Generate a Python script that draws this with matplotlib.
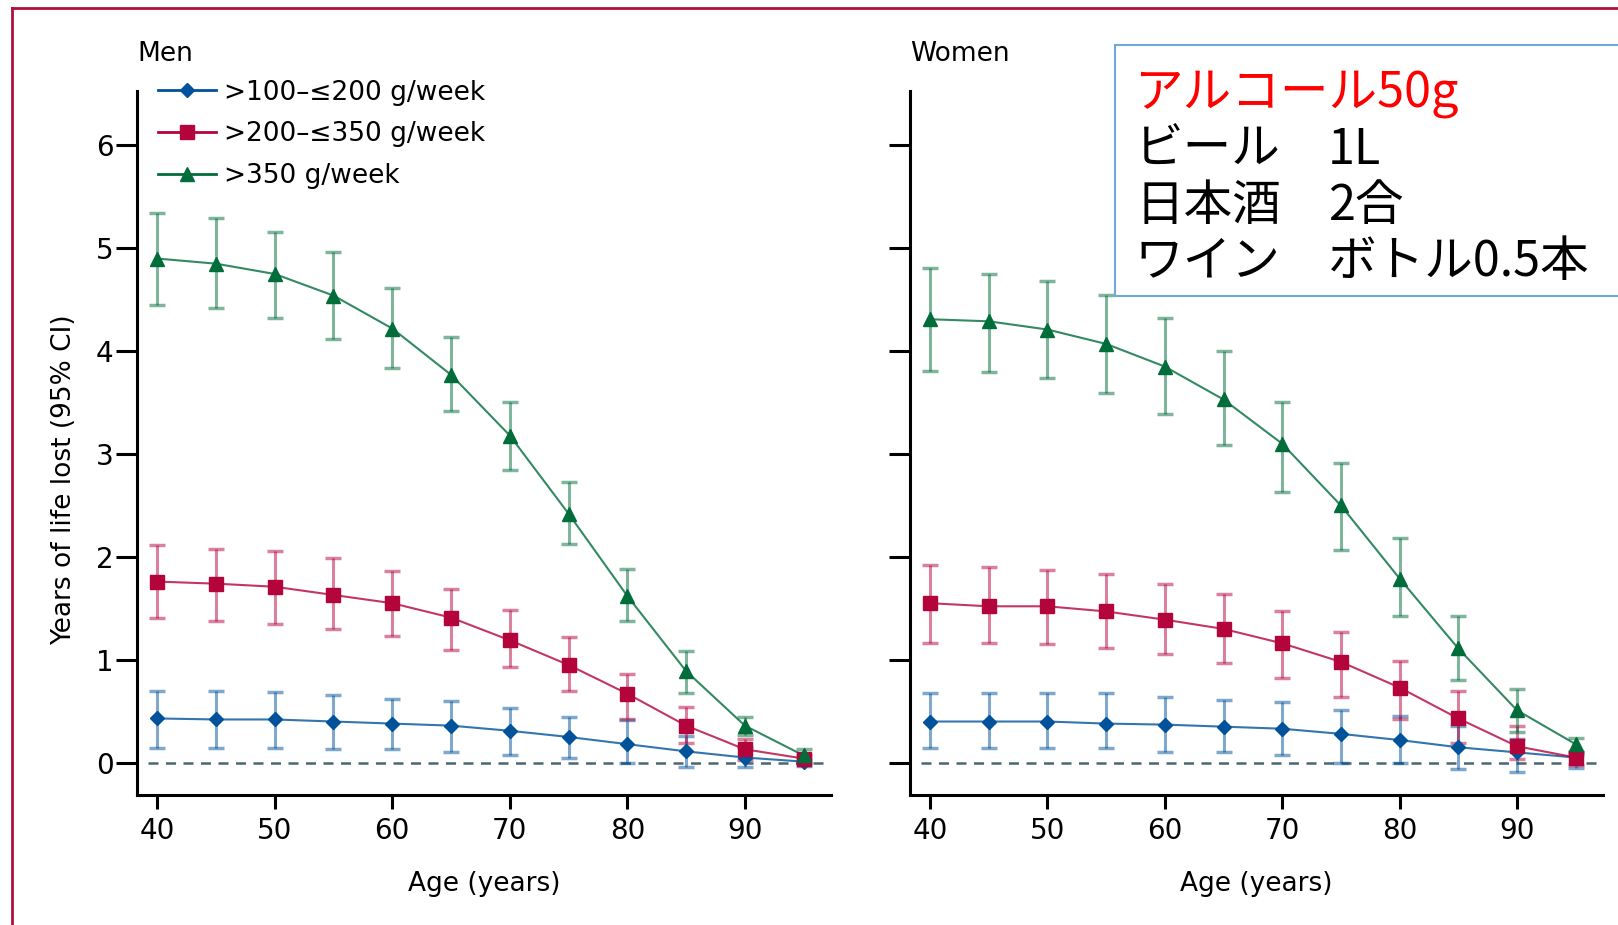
import numpy as np
import matplotlib.pyplot as plt
from matplotlib.lines import Line2D
from matplotlib.patches import Rectangle

# ---------------------------------------------------------------------------
# Datos
# ---------------------------------------------------------------------------
ages = [40, 45, 50, 55, 60, 65, 70, 75, 80, 85, 90, 95]
series_labels = [">100\u2013\u2264200 g/week", ">200\u2013\u2264350 g/week", ">350 g/week"]

# Hombres
men_low = [0.43, 0.42, 0.42, 0.40, 0.38, 0.36, 0.31, 0.25, 0.18, 0.11, 0.05, 0.01]
men_low_lo = [0.14, 0.14, 0.14, 0.13, 0.13, 0.10, 0.07, 0.05, 0.00, -0.04, -0.04, -0.03]
men_low_hi = [0.70, 0.70, 0.69, 0.66, 0.62, 0.60, 0.53, 0.44, 0.41, 0.26, 0.15, 0.04]

men_mid = [1.76, 1.74, 1.71, 1.63, 1.55, 1.41, 1.19, 0.95, 0.67, 0.36, 0.13, 0.04]
men_mid_lo = [1.41, 1.38, 1.35, 1.30, 1.23, 1.10, 0.93, 0.70, 0.42, 0.19, 0.03, 0.00]
men_mid_hi = [2.12, 2.08, 2.06, 1.99, 1.86, 1.69, 1.48, 1.22, 0.86, 0.54, 0.23, 0.07]

men_high = [4.90, 4.85, 4.75, 4.54, 4.22, 3.77, 3.18, 2.42, 1.62, 0.89, 0.36, 0.07]
men_high_lo = [4.45, 4.42, 4.32, 4.12, 3.84, 3.42, 2.84, 2.13, 1.38, 0.68, 0.27, 0.01]
men_high_hi = [5.34, 5.29, 5.16, 4.96, 4.61, 4.14, 3.51, 2.73, 1.88, 1.09, 0.44, 0.13]

# Mujeres
women_low = [0.40, 0.40, 0.40, 0.38, 0.37, 0.35, 0.33, 0.28, 0.22, 0.15, 0.10, 0.05]
women_low_lo = [0.14, 0.14, 0.14, 0.14, 0.10, 0.10, 0.07, 0.00, 0.00, -0.06, -0.09, -0.05]
women_low_hi = [0.68, 0.68, 0.68, 0.68, 0.64, 0.61, 0.59, 0.51, 0.45, 0.36, 0.23, 0.10]

women_mid = [1.55, 1.52, 1.52, 1.47, 1.39, 1.30, 1.16, 0.98, 0.73, 0.43, 0.16, 0.05]
women_mid_lo = [1.16, 1.16, 1.15, 1.11, 1.06, 0.97, 0.82, 0.64, 0.42, 0.19, 0.04, -0.02]
women_mid_hi = [1.92, 1.90, 1.87, 1.83, 1.74, 1.64, 1.47, 1.27, 0.99, 0.70, 0.36, 0.10]

women_high = [4.31, 4.29, 4.21, 4.07, 3.85, 3.53, 3.10, 2.50, 1.79, 1.11, 0.51, 0.18]
women_high_lo = [3.81, 3.80, 3.74, 3.59, 3.39, 3.09, 2.63, 2.07, 1.43, 0.80, 0.30, 0.07]
women_high_hi = [4.81, 4.75, 4.68, 4.55, 4.32, 4.00, 3.51, 2.91, 2.18, 1.43, 0.72, 0.24]

box_left = ["ビール", "日本酒", "ワイン"]
box_right = ["1L", "2合", "ボトル0.5本"]

colores = ["#00529b", "#b4043c", "#006d3a"]
marcadores = ["D", "s", "^"]
tamanos = [7, 10, 10]

FONT = ["Liberation Sans Narrow", "DejaVu Sans"]
plt.rcParams["font.family"] = FONT


def dibujar_panel(ax, series, titulo, etiquetas_y=True):
    """Dibuja un panel (hombres o mujeres)"""
    for (y, lo, hi), c, m, ms in zip(series, colores, marcadores, tamanos):
        y = np.array(y)
        err = np.vstack([y - np.array(lo), np.array(hi) - y])
        ax.errorbar(ages, y, yerr=err, fmt="none", ecolor=c, alpha=0.5,
                    elinewidth=2.2, capsize=6, capthick=2.5, zorder=2)
        ax.plot(ages, y, "-", color=c, lw=1.5, alpha=0.8, zorder=3)
        ax.plot(ages, y, m, color=c, ms=ms, mec=c, zorder=4)

    ax.hlines(0, 39.2, 96.8, colors="#4a6670", linestyles=(0, (4, 3)), lw=1.8, zorder=1)

    ax.set_xlim(38.3, 97.3)
    ax.set_ylim(-0.31, 6.53)
    ax.set_xticks([40, 50, 60, 70, 80, 90])
    ax.set_yticks([0, 1, 2, 3, 4, 5, 6])
    if not etiquetas_y:
        ax.set_yticklabels([])

    for s in ["top", "right"]:
        ax.spines[s].set_visible(False)
    for s in ["left", "bottom"]:
        ax.spines[s].set_linewidth(2.2)

    ax.tick_params(axis="y", length=15, width=2.2, labelsize=20, pad=2)
    ax.tick_params(axis="x", length=10, width=2.2, labelsize=20, pad=6)

    ax.text(0, 1.052, titulo, transform=ax.transAxes, ha="left", va="center",
            fontsize=19)
    ax.set_xlabel("Age (years)", fontsize=19)
    ax.xaxis.set_label_coords(0.5, -0.109)


fig = plt.figure(figsize=(16.18, 9.25), dpi=100)

ax1 = fig.add_axes([0.0848, 0.141, 0.4286, 0.7608])
ax2 = fig.add_axes([0.5625, 0.141, 0.4280, 0.7608])

dibujar_panel(ax1, [(men_low, men_low_lo, men_low_hi),
                    (men_mid, men_mid_lo, men_mid_hi),
                    (men_high, men_high_lo, men_high_hi)], "Men")
dibujar_panel(ax2, [(women_low, women_low_lo, women_low_hi),
                    (women_mid, women_mid_lo, women_mid_hi),
                    (women_high, women_high_lo, women_high_hi)], "Women",
              etiquetas_y=False)

ax1.set_ylabel("Years of life lost (95% CI)", fontsize=19)
ax1.yaxis.set_label_coords(-0.087, 0.447)

# Leyenda
handles = [Line2D([0], [0], color=c, lw=2, marker=m, ms=ms)
           for c, m, ms in zip(colores, marcadores, tamanos)]
ax1.legend(handles, series_labels, loc="upper left", bbox_to_anchor=(0.03, 1.016),
           frameon=False, fontsize=19, handlelength=2.2, handletextpad=0.3,
           labelspacing=0.6, borderpad=0, borderaxespad=0)

# Cuadro de texto (japonés)
fig.add_artist(Rectangle((0.689, 0.680), 0.32, 0.271, transform=fig.transFigure,
                         facecolor="white", edgecolor="#6fa8dc", lw=1.5, zorder=10))
jp = ["Noto Sans CJK JP", "DejaVu Sans"]
fig.text(0.7015, 0.898, "アルコール50g", color="#ff0000", fontsize=35, family=jp,
         va="center", ha="left", zorder=11)
for i, (izq, der) in enumerate(zip(box_left, box_right)):
    yy = 0.838 - i * 0.0605
    fig.text(0.7015, yy, izq, fontsize=35, family=jp, va="center", ha="left", zorder=11)
    fig.text(0.8205, yy, der, fontsize=35, family=jp, va="center", ha="left", zorder=11)

# Marco rojo exterior
fig.add_artist(Line2D([0.0074, 1.0], [0.991, 0.991], transform=fig.transFigure,
                      color="#b0103a", lw=2))
fig.add_artist(Line2D([0.0074, 0.0074], [0.0, 0.991], transform=fig.transFigure,
                      color="#b0103a", lw=2))

plt.savefig("out.png", dpi=100)
